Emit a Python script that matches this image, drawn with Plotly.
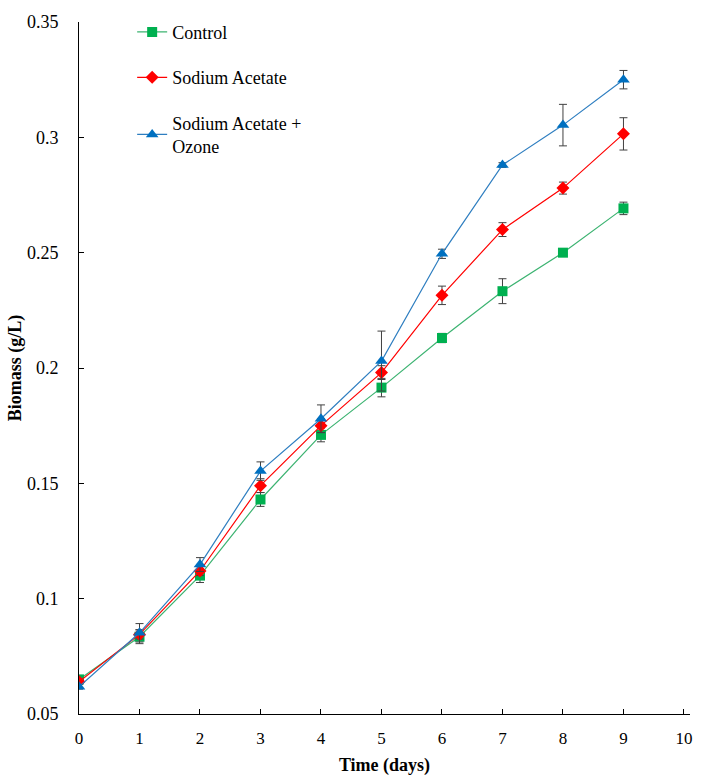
import plotly.graph_objects as go

days = [0, 1, 2, 3, 4, 5, 6, 7, 8, 9]
control = [0.065, 0.0835, 0.110, 0.143, 0.171, 0.1915, 0.213, 0.2333, 0.250, 0.2692]
control_err = [0.001, 0.003, 0.003, 0.003, 0.003, 0.004, 0.002, 0.0054, 0.001, 0.0027]
acetate = [0.064, 0.0845, 0.112, 0.149, 0.175, 0.198, 0.2315, 0.260, 0.278, 0.3015]
acetate_err = [0.001, 0.002, 0.002, 0.003, 0.003, 0.003, 0.004, 0.003, 0.0026, 0.007]
ozone = [0.0618, 0.0852, 0.1148, 0.1553, 0.178, 0.203, 0.2495, 0.288, 0.3053, 0.325]
ozone_err = [0.001, 0.004, 0.003, 0.004, 0.006, 0.013, 0.002, 0.001, 0.009, 0.004]

series = [
    ("Control", control, control_err, "#00B050", "#3CB371", "square", 10),
    ("Sodium Acetate", acetate, acetate_err, "#FF0000", "#FF0000", "diamond", 10),
    ("Sodium Acetate +<br>Ozone", ozone, ozone_err, "#0070C0", "#2E7EC0", "triangle-up", 11),
]

fig = go.Figure()
for i, (name, vals, err, mcol, lcol, sym, size) in enumerate(series):
    fig.add_trace(go.Scatter(
        x=days, y=vals, name=name, mode="lines+markers",
        legendgroup=f"g{i}",
        line=dict(color=lcol, width=1.2),
        marker=dict(color=mcol, symbol=sym, size=size),
        error_y=dict(type="data", array=err, visible=True, color="#404040",
                     thickness=1, width=4),
    ))

font_family = "Liberation Serif"
fig.update_layout(
    width=704, height=784,
    margin=dict(l=79, r=14, t=19, b=70),
    paper_bgcolor="white", plot_bgcolor="white",
    font=dict(family=font_family, size=17, color="black"),
    showlegend=True,
    legend=dict(x=0.087, y=1.012, xanchor="left", yanchor="top",
                font=dict(family=font_family, size=18, color="black"),
                tracegroupgap=19, bgcolor="rgba(0,0,0,0)", itemwidth=30),
    xaxis=dict(range=[0, 10.1], tickvals=list(range(0, 11)), ticks="inside",
               ticklen=5, tickcolor="black", showline=True, linecolor="black",
               linewidth=1, showgrid=False, zeroline=False, ticklabelstandoff=9,
               title=dict(text="<b>Time (days)</b>", font=dict(family=font_family, size=18), standoff=10),
               tickfont=dict(family=font_family, size=17)),
    yaxis=dict(range=[0.05, 0.35], tickvals=[0.05, 0.1, 0.15, 0.2, 0.25, 0.3, 0.35],
               ticktext=["0.05", "0.1", "0.15", "0.2", "0.25", "0.3", "0.35"],
               ticks="inside", ticklen=5, tickcolor="black", showline=True,
               linecolor="black", linewidth=1, showgrid=False, zeroline=False,
               ticklabelstandoff=16,
               title=dict(text="<b>Biomass (g/L)</b>", font=dict(family=font_family, size=18), standoff=0),
               tickfont=dict(family=font_family, size=18)),
)

fig.write_html("out.html")
